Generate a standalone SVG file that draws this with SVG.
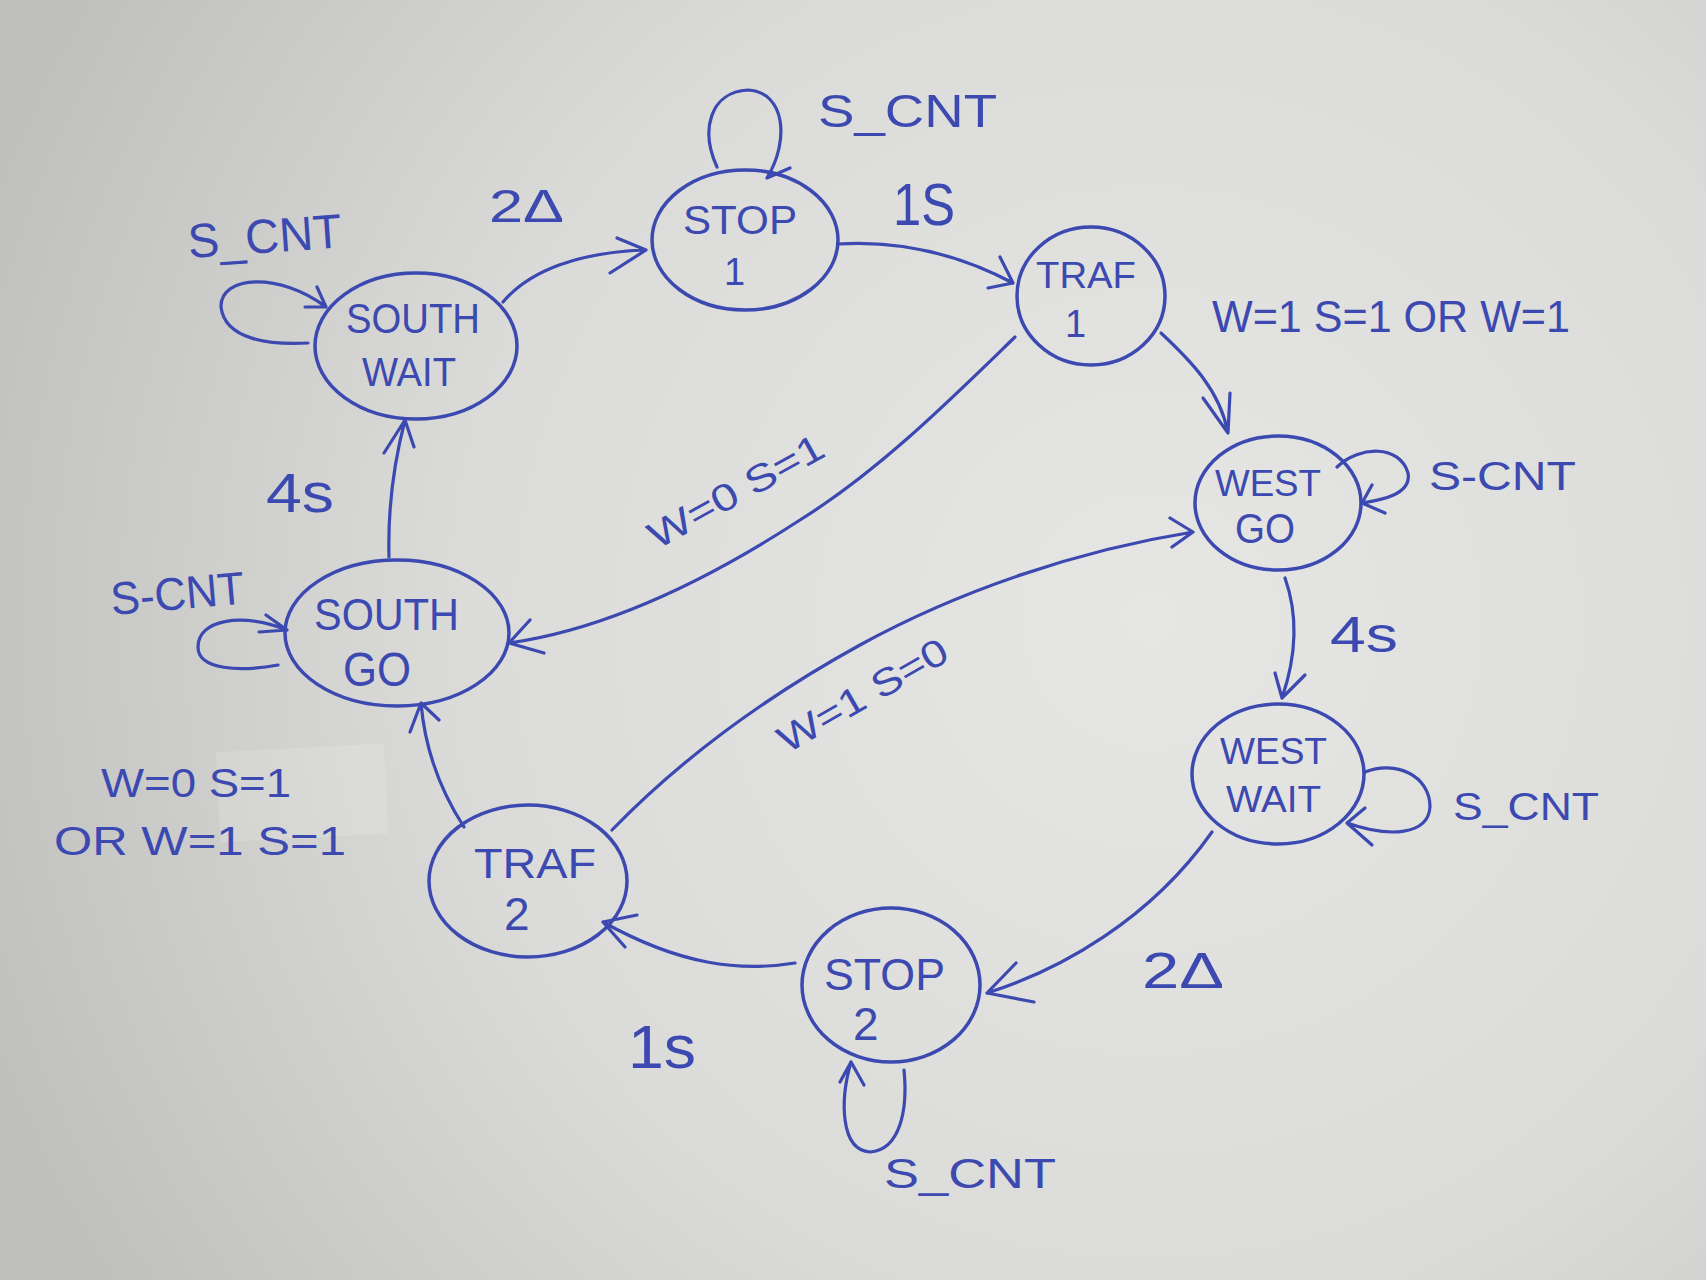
<svg xmlns="http://www.w3.org/2000/svg" width="1706" height="1280" viewBox="0 0 1706 1280">
<defs>
<radialGradient id="paper" cx="1150" cy="620" r="1250" gradientUnits="userSpaceOnUse">
<stop offset="0" stop-color="#e6e6e4"/>
<stop offset="0.55" stop-color="#dbdbd9"/>
<stop offset="1" stop-color="#bfbfbd"/>
</radialGradient>
<style>
.n{fill:none;stroke:#3b49b0;stroke-width:3.5;stroke-linecap:round;stroke-linejoin:round}
.c path{fill:none;stroke:#3b49b0;stroke-width:3.2;stroke-linecap:round;stroke-linejoin:round}
.t{fill:#3b49b0;font-family:"Liberation Sans","DejaVu Sans",sans-serif;font-weight:normal}
</style>
</defs>
<rect width="1706" height="1280" fill="url(#paper)"/>
<rect x="218" y="748" width="168" height="90" fill="#ffffff" opacity="0.14" transform="rotate(-3 300 790)"/>

<g id="stop1"><ellipse class="n" cx="745" cy="240" rx="93" ry="70"/>
<text class="t" x="683" y="234" font-size="40" textLength="114" lengthAdjust="spacingAndGlyphs">STOP</text>
<text class="t" x="724" y="285" font-size="38">1</text></g>

<g id="traf1"><ellipse class="n" cx="1091" cy="296" rx="74" ry="69"/>
<text class="t" x="1036" y="288" font-size="36" textLength="100" lengthAdjust="spacingAndGlyphs">TRAF</text>
<text class="t" x="1065" y="337" font-size="38">1</text></g>

<g id="southwait"><ellipse class="n" cx="416" cy="346" rx="101" ry="73"/>
<text class="t" x="346" y="333" font-size="42" textLength="134" lengthAdjust="spacingAndGlyphs">SOUTH</text>
<text class="t" x="362" y="386" font-size="40" textLength="94" lengthAdjust="spacingAndGlyphs">WAIT</text></g>

<g id="westgo"><ellipse class="n" cx="1278" cy="503" rx="83" ry="67"/>
<text class="t" x="1215" y="496" font-size="36" textLength="106" lengthAdjust="spacingAndGlyphs">WEST</text>
<text class="t" x="1235" y="543" font-size="42" textLength="60" lengthAdjust="spacingAndGlyphs">GO</text></g>

<g id="southgo"><ellipse class="n" cx="397" cy="633" rx="112" ry="73"/>
<text class="t" x="314" y="630" font-size="44" textLength="145" lengthAdjust="spacingAndGlyphs">SOUTH</text>
<text class="t" x="343" y="686" font-size="48" textLength="68" lengthAdjust="spacingAndGlyphs">GO</text></g>

<g id="westwait"><ellipse class="n" cx="1278" cy="774" rx="86" ry="70"/>
<text class="t" x="1220" y="764" font-size="36" textLength="107" lengthAdjust="spacingAndGlyphs">WEST</text>
<text class="t" x="1226" y="812" font-size="36" textLength="95" lengthAdjust="spacingAndGlyphs">WAIT</text></g>

<g id="traf2"><ellipse class="n" cx="528" cy="881" rx="99" ry="76"/>
<text class="t" x="474" y="878" font-size="42" textLength="122" lengthAdjust="spacingAndGlyphs">TRAF</text>
<text class="t" x="504" y="930" font-size="46">2</text></g>

<g id="stop2"><ellipse class="n" cx="891" cy="985" rx="89" ry="77"/>
<text class="t" x="824" y="990" font-size="44" textLength="121" lengthAdjust="spacingAndGlyphs">STOP</text>
<text class="t" x="853" y="1040" font-size="46">2</text></g>

<g id="connectors" class="c">
<path d="M503,302 C530,270 580,252 646,250 M617,238 L646,250 L610,273"/>
<path d="M838,244 C900,240 960,255 1013,283 M1000,257 L1013,283 L988,288"/>
<path d="M1161,333 C1190,360 1220,390 1228,433 M1203,398 L1228,433 L1230,393"/>
<path d="M1285,578 C1300,620 1295,660 1282,698 M1275,673 L1282,698 L1305,675"/>
<path d="M1212,832 C1150,920 1060,970 987,993 M1016,963 L987,993 L1034,1002"/>
<path d="M795,963 C740,972 680,965 603,922 M637,915 L603,922 L625,947"/>
<path d="M464,827 C440,790 425,750 421,703 M410,732 L421,703 L439,720"/>
<path d="M389,557 C388,520 392,470 405,420 M384,453 L405,420 L414,447"/>
<path d="M1015,337 C950,400 880,470 800,520 C700,585 600,630 509,643 M530,620 L509,643 L544,653"/>
<path d="M612,830 C680,760 760,700 860,645 C960,590 1080,550 1193,532 M1170,518 L1193,532 L1172,547"/>
<path d="M717,167 C700,130 710,92 748,90 C785,92 790,140 767,178 L790,168"/>
<path d="M308,343 C270,345 225,340 221,307 C220,275 280,272 326,307 M317,287 L326,307 L305,307"/>
<path d="M1337,467 C1360,445 1400,445 1408,473 C1412,495 1380,500 1362,503 M1372,485 L1362,503 L1385,513"/>
<path d="M1365,772 C1395,760 1430,775 1430,807 C1428,835 1390,838 1347,823 M1365,808 L1347,823 L1372,845"/>
<path d="M278,665 C240,672 198,670 198,647 C198,620 240,612 287,630 M266,615 L287,630 L259,632"/>
<path d="M904,1070 C908,1110 900,1150 870,1152 C840,1150 840,1100 851,1062 M840,1082 L851,1062 L864,1085"/>
</g>

<g id="labels">
<text class="t" x="818" y="127" font-size="46" textLength="179" lengthAdjust="spacingAndGlyphs">S_CNT</text>
<text class="t" x="893" y="225" font-size="60" textLength="62" lengthAdjust="spacingAndGlyphs">1S</text>
<text class="t" x="489" y="222" font-size="46" textLength="75" lengthAdjust="spacingAndGlyphs">2Δ</text>
<text class="t" x="189" y="258" font-size="48" textLength="154" lengthAdjust="spacingAndGlyphs" transform="rotate(-4 189 258)">S_CNT</text>
<text class="t" x="1212" y="332" font-size="44" textLength="358" lengthAdjust="spacingAndGlyphs">W=1 S=1 OR  W=1</text>
<text class="t" x="1429" y="490" font-size="40" textLength="147" lengthAdjust="spacingAndGlyphs">S-CNT</text>
<text class="t" x="1330" y="652" font-size="50" textLength="68" lengthAdjust="spacingAndGlyphs">4s</text>
<text class="t" x="1453" y="820" font-size="38" textLength="146" lengthAdjust="spacingAndGlyphs">S_CNT</text>
<text class="t" x="1142" y="988" font-size="50" textLength="82" lengthAdjust="spacingAndGlyphs">2Δ</text>
<text class="t" x="884" y="1188" font-size="42" textLength="172" lengthAdjust="spacingAndGlyphs">S_CNT</text>
<text class="t" x="628" y="1068" font-size="62" textLength="68" lengthAdjust="spacingAndGlyphs">1s</text>
<text class="t" x="266" y="512" font-size="56" textLength="68" lengthAdjust="spacingAndGlyphs">4s</text>
<text class="t" x="112" y="615" font-size="46" textLength="134" lengthAdjust="spacingAndGlyphs" transform="rotate(-5 112 615)">S-CNT</text>
<text class="t" x="101" y="797" font-size="40" textLength="190" lengthAdjust="spacingAndGlyphs">W=0 S=1</text>
<text class="t" x="54" y="855" font-size="40" textLength="292" lengthAdjust="spacingAndGlyphs">OR W=1 S=1</text>
<text class="t" x="657" y="550" font-size="38" textLength="195" lengthAdjust="spacingAndGlyphs" transform="rotate(-29 657 550)">W=0 S=1</text>
<text class="t" x="787" y="754" font-size="38" textLength="190" lengthAdjust="spacingAndGlyphs" transform="rotate(-30 787 754)">W=1 S=0</text>
</g>
</svg>
